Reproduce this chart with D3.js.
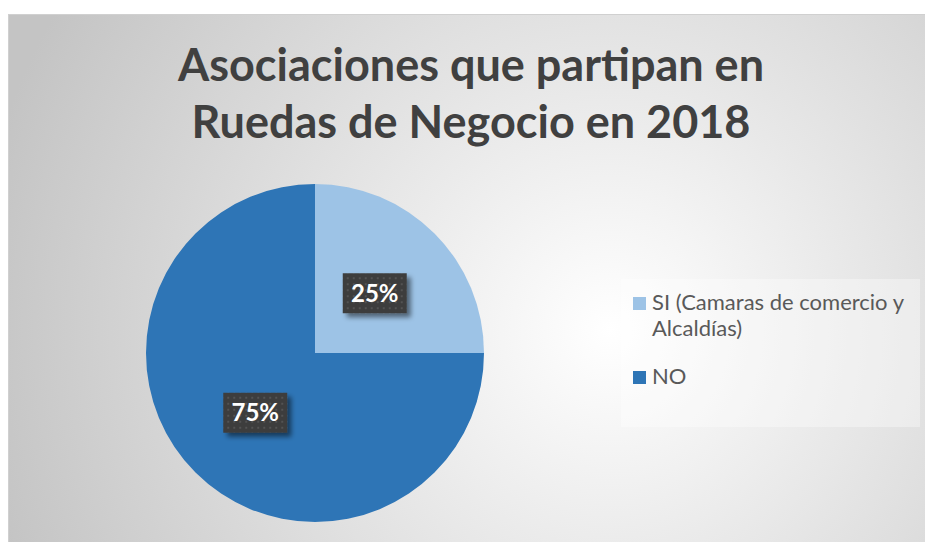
<!DOCTYPE html>
<html><head><meta charset="utf-8">
<script src="https://cdn.jsdelivr.net/npm/d3@7"></script>
<style>html,body{margin:0;padding:0;background:#fff;}svg{display:block;}</style>
</head><body>
<svg id="c" width="925" height="542"></svg>
<script>
const categories = ["SI (Camaras de comercio y Alcaldías)", "NO"];
const legendLines = [["SI (Camaras de comercio y", "Alcaldías)"], ["NO"]];
const values = [25, 75];
const colors = ["#9dc3e6", "#2e75b6"];
const titleLines = ["Asociaciones que partipan en", "Ruedas de Negocio en 2018"];

const svg = d3.select("#c");
const defs = svg.append("defs");
const rg = defs.append("radialGradient").attr("id","bg").attr("gradientUnits","userSpaceOnUse")
  .attr("cx",610).attr("cy",330).attr("r",640);
rg.append("stop").attr("offset","0").attr("stop-color","#ffffff");
rg.append("stop").attr("offset","1").attr("stop-color","#c4c4c4");

const pat = defs.append("pattern").attr("id","dots").attr("patternUnits","userSpaceOnUse")
  .attr("width",6).attr("height",6);
pat.append("rect").attr("width",6).attr("height",6).attr("fill","#3d3d3d");
pat.append("rect").attr("x",2).attr("y",2).attr("width",2).attr("height",2).attr("fill","#525252");

const sh = defs.append("filter").attr("id","sh").attr("x","-30%").attr("y","-30%").attr("width","170%").attr("height","170%");
sh.append("feGaussianBlur").attr("in","SourceAlpha").attr("stdDeviation",2.5);
sh.append("feOffset").attr("dx",4).attr("dy",4).attr("result","o");
sh.append("feComponentTransfer").append("feFuncA").attr("type","linear").attr("slope",0.5);
const fm = sh.append("feMerge"); fm.append("feMergeNode"); fm.append("feMergeNode").attr("in","SourceGraphic");

svg.append("rect").attr("x",8.5).attr("y",14.5).attr("width",930).attr("height",540)
  .attr("fill","url(#bg)").attr("stroke","#d0d0d0").attr("stroke-width",1);

svg.append("g").selectAll("text").data(titleLines).join("text")
  .attr("x",471).attr("y",(d,i)=>81+i*57).attr("text-anchor","middle")
  .attr("font-family","Lato, 'Open Sans', sans-serif").attr("font-weight","bold")
  .attr("font-size",45).attr("fill","#404040").text(d=>d);

const cx=315, cy=353, R=169;
const pie = d3.pie().sort(null).value(d=>d)(values);
const arc = d3.arc().innerRadius(0).outerRadius(R);
const g = svg.append("g").attr("transform",`translate(${cx},${cy})`);
g.selectAll("path").data(pie).join("path").attr("d",arc).attr("fill",(d,i)=>colors[i]);

const labelArc = d3.arc().innerRadius(R*0.5).outerRadius(R*0.5);
const lg = g.selectAll("g.lab").data(pie).join("g").attr("class","lab")
  .attr("transform",d=>{const c=labelArc.centroid(d);return `translate(${c[0]},${c[1]})`;});
lg.append("rect").attr("x",-32).attr("y",-20).attr("width",64).attr("height",40)
  .attr("fill","url(#dots)").attr("filter","url(#sh)");
lg.append("text").attr("text-anchor","middle").attr("y",8.5)
  .attr("font-family","Lato, 'Open Sans', sans-serif").attr("font-weight","bold")
  .attr("font-size",24).attr("fill","#ffffff").text(d=>d.data+"%");

svg.append("rect").attr("x",621).attr("y",279).attr("width",299).attr("height",148)
  .attr("fill","#ffffff").attr("fill-opacity",0.35);
const leg = svg.append("g").selectAll("g").data(legendLines).join("g")
  .attr("transform",(d,i)=>`translate(633,${297+i*74})`);
leg.append("rect").attr("width",13).attr("height",13).attr("fill",(d,i)=>colors[i]);
leg.each(function(d){
  d3.select(this).selectAll("text").data(d).join("text")
    .attr("x",19).attr("y",(t,j)=>13+j*26)
    .attr("font-family","Lato, 'Open Sans', sans-serif").attr("font-size",22).attr("fill","#595959").text(t=>t);
});
</script>
</body></html>
